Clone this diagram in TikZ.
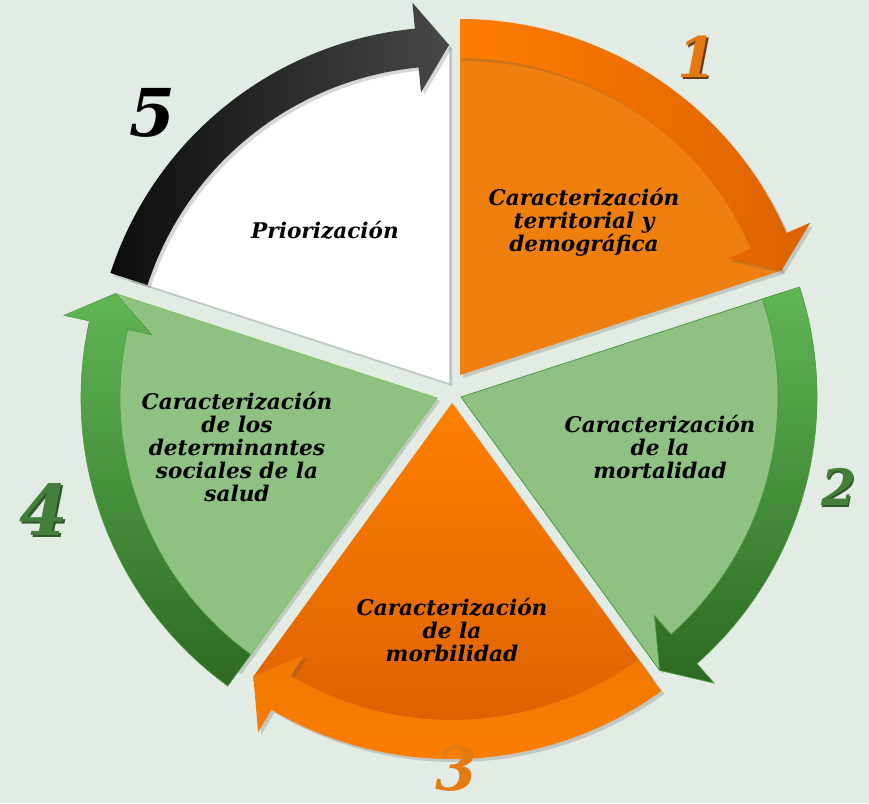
\documentclass[tikz,border=0pt]{standalone}
\usepackage{fontspec}
\setmainfont{DejaVu Serif}
\usetikzlibrary{shadows}
\definecolor{bg}{HTML}{E2EBE4}
\definecolor{ofill}{HTML}{EF800F}
\definecolor{oband}{HTML}{FF7D00}
\definecolor{obanddark}{HTML}{DD6200}
\definecolor{gfill}{HTML}{8FC183}
\definecolor{gbandtop}{HTML}{60B655}
\definecolor{gbandbot}{HTML}{2C6A21}
\definecolor{gline}{HTML}{4C9B3E}
\definecolor{glight}{HTML}{7BC55A}
\definecolor{othree}{HTML}{FF8000}
\definecolor{othreebot}{HTML}{D95E00}
\definecolor{numorange}{HTML}{E57A10}
\definecolor{numgreen}{HTML}{437F3A}
\definecolor{numshadow}{HTML}{6A3A10}
\tikzset{
  lbl/.style={font=\bfseries\itshape\fontsize{21.6}{23}\selectfont, align=center, text=black, inner sep=0pt},
  numlbl/.style={font=\bfseries\itshape\fontsize{#1}{#1}\selectfont, inner sep=0pt},
  shad/.style={drop shadow={opacity=0.22, shadow xshift=3pt, shadow yshift=-3pt, fill=black!70}},
}
\begin{document}
\begin{tikzpicture}[x=1pt,y=1pt]
\useasboundingbox (0,0) rectangle (869,803);
\fill[bg] (0,0) rectangle (869,803);

\coordinate (T1) at (460,428);
\coordinate (T2) at (461,406);
\coordinate (T3) at (452,400);
\coordinate (T4) at (437,405);
\coordinate (T5) at (449,420);

% ---- sector 5 (white) ----
\fill[shift={(T5)}, white, shad] (0,0) -- (90:338) arc[start angle=90, end angle=162, radius=338] -- cycle;
\shade[shift={(T5)}, left color=black!95, right color=black!72, shad]
  (162:317) -- (162:356) arc[start angle=162, end angle=95.5, radius=356] -- (95.5:382) -- (90:338) -- (95.5:292) -- (95.5:317) arc[start angle=95.5, end angle=162, radius=317] -- cycle;

% ---- sector 1 (orange) ----
\fill[shift={(T1)}, ofill, shad] (0,0) -- (18:338) arc[start angle=18, end angle=90, radius=338] -- cycle;
\shade[shift={(T1)}, left color=oband, right color=obanddark, shad]
  (90:317) -- (90:356) arc[start angle=90, end angle=23.5, radius=356] -- (23.5:382) -- (18:338) -- (23.5:292) -- (23.5:317) arc[start angle=23.5, end angle=90, radius=317] -- cycle;

% ---- sector 2 (green) ----
\fill[shift={(T2)}, gfill, draw=gline, line width=0.8pt, shad] (0,0) -- (-54:338) arc[start angle=-54, end angle=18, radius=338] -- cycle;
\shade[shift={(T2)}, top color=gbandtop, bottom color=gbandbot, draw=gline, line width=0.6pt]
  (18:317) -- (18:356) arc[start angle=18, end angle=-48.5, radius=356] -- (-48.5:382) -- (-54:338) -- (-48.5:292) -- (-48.5:317) arc[start angle=-48.5, end angle=18, radius=317] -- cycle;

% ---- sector 3 (orange) ----
\shade[shift={(T3)}, top color=othree, bottom color=othreebot, shad] (0,0) -- (-126:338) arc[start angle=-126, end angle=-54, radius=338] -- cycle;
\shade[shift={(T3)}, top color=othree!94!black, bottom color=othree, shad]
  (-54:317) -- (-54:356) arc[start angle=-54, end angle=-120.5, radius=356] -- (-120.5:382) -- (-126:338) -- (-120.5:292) -- (-120.5:317) arc[start angle=-120.5, end angle=-54, radius=317] -- cycle;

% ---- sector 4 (green) ----
\fill[shift={(T4)}, gfill, draw=glight, line width=0.8pt, shad] (0,0) -- (162:338) arc[start angle=162, end angle=234, radius=338] -- cycle;
\shade[shift={(T4)}, top color=gbandtop, bottom color=gbandbot, draw=gline, line width=0.6pt]
  (234:317) -- (234:356) arc[start angle=234, end angle=167.5, radius=356] -- (167.5:382) -- (162:338) -- (167.5:292) -- (167.5:317) arc[start angle=167.5, end angle=234, radius=317] -- cycle;

% ---- texts ----
\node[lbl] (t5) at (325,573) {Priorización};
\node[lbl] (t1) at (584,581) {Caracterización\\territorial y\\demográfica};
\node[lbl] (t2) at (660,356) {Caracterización\\de la\\mortalidad};
\node[lbl] (t3) at (452,173) {Caracterización\\de la\\morbilidad};
\node[lbl] (t4) at (237,356) {Caracterización\\de los\\determinantes\\sociales de la\\salud};

% ---- numbers ----
\node[numlbl=56, text=numshadow] at (698.5,744.5) {1};
\node[numlbl=56, text=numorange] (n1) at (697,746) {1};
\node[numlbl=50, text=numgreen!70!black] at (840,314.5) {2};
\node[numlbl=50, text=numgreen] (n2) at (839,316) {2};
\node[numlbl=60, text=numorange] (n3) at (456,34) {3};
\node[numlbl=70, text=numgreen!70!black] at (45.5,291.5) {4};
\node[numlbl=70, text=numgreen] (n4) at (44,293) {4};
\node[numlbl=66, text=black] (n5) at (152,690) {5};
\end{tikzpicture}
\end{document}
